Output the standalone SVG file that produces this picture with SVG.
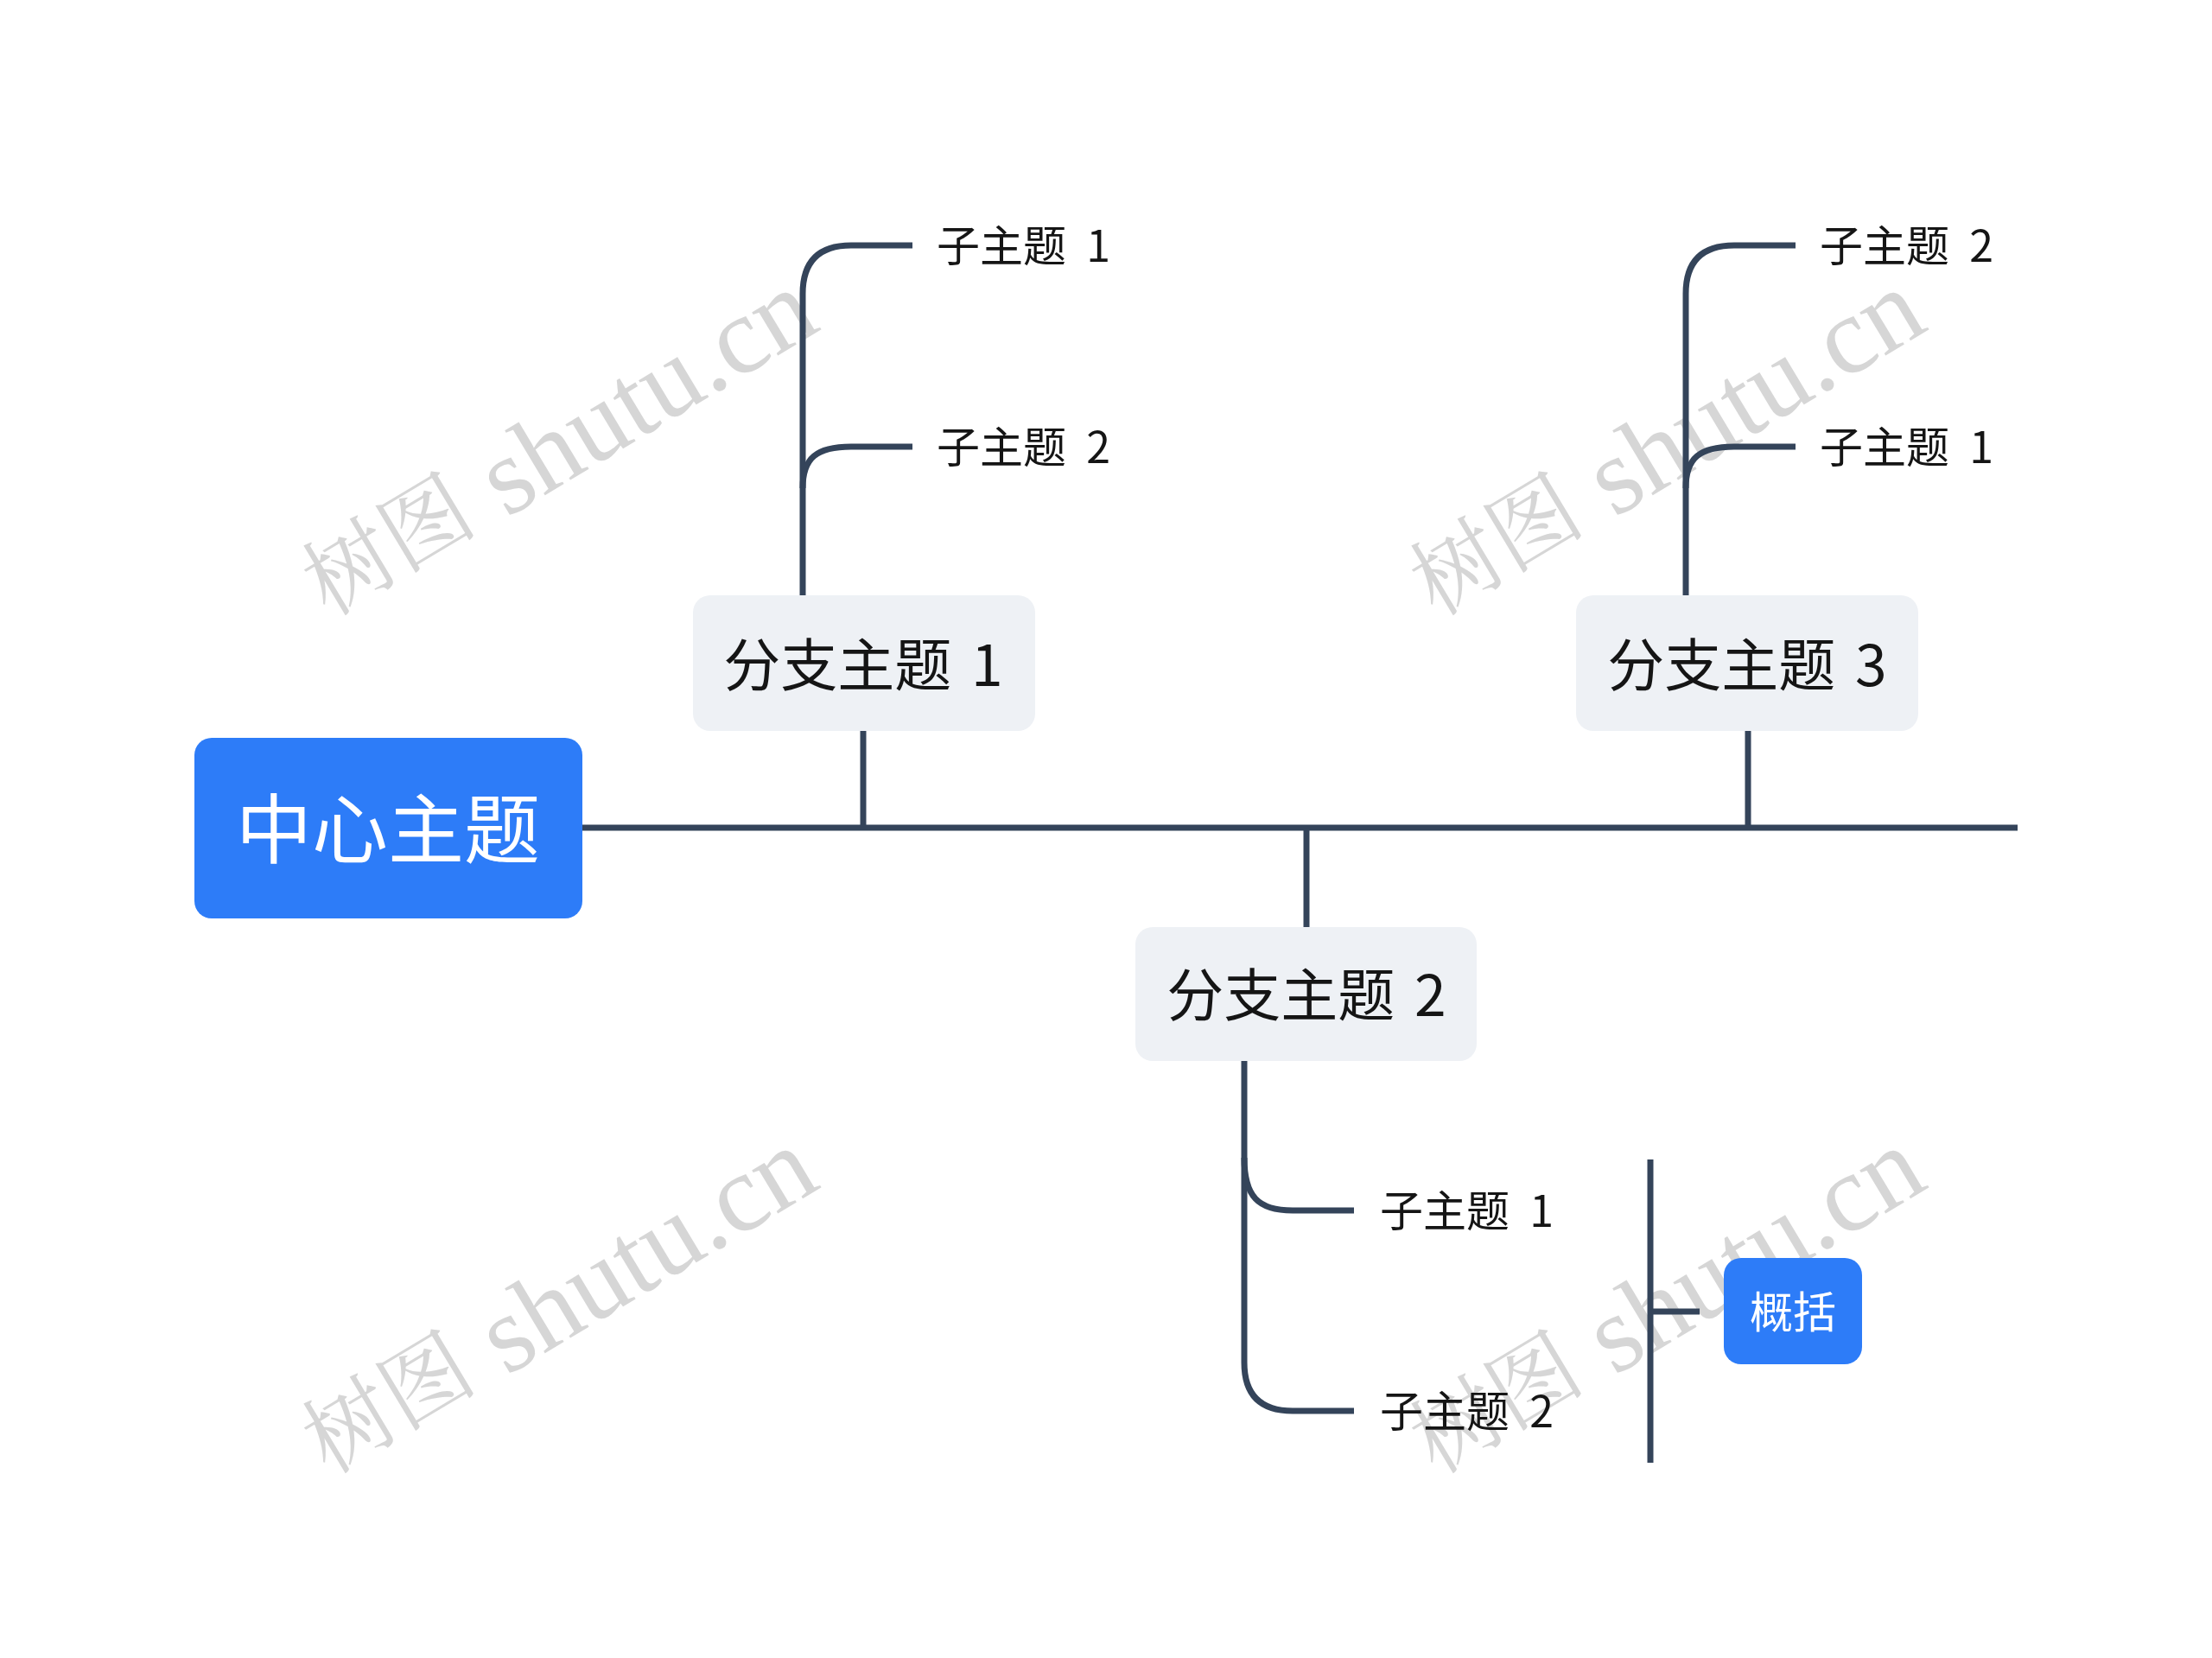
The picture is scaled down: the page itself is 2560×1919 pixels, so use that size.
<svg xmlns="http://www.w3.org/2000/svg" width="2560" height="1919" viewBox="0 0 2560 1919">
<style>
.wm{font-family:"Liberation Serif","Noto Serif CJK SC","Noto Sans CJK SC",serif;font-size:127px;fill:#d2d2d2;fill-opacity:0.9}
.wmc{font-size:102px}
.ln{fill:none;stroke:#34445a;stroke-width:7}
.t{font-family:"Noto Sans CJK SC","Noto Sans",sans-serif;dominant-baseline:central}
.sub{font-size:50px;fill:#151515;word-spacing:12px}
.br{font-size:66px;fill:#151515;text-anchor:middle;word-spacing:8px}
.brbox{fill:#eef1f5}
.blue{fill:#2d7cf8}
</style>
<rect width="2560" height="1919" fill="#ffffff"/>
<g id="watermarks">
<text class="wm" text-anchor="middle" dominant-baseline="central" transform="translate(646 514) rotate(-31)"><tspan class="wmc">树图</tspan> shutu.cn</text>
<text class="wm" text-anchor="middle" dominant-baseline="central" transform="translate(1928 514) rotate(-31)"><tspan class="wmc">树图</tspan> shutu.cn</text>
<text class="wm" text-anchor="middle" dominant-baseline="central" transform="translate(646 1507) rotate(-31)"><tspan class="wmc">树图</tspan> shutu.cn</text>
<text class="wm" text-anchor="middle" dominant-baseline="central" transform="translate(1928 1507) rotate(-31)"><tspan class="wmc">树图</tspan> shutu.cn</text>
</g>
<g id="connectors">
<path class="ln" d="M674 958 H2335"/>
<path class="ln" d="M999 846 V958"/>
<path class="ln" d="M2023 846 V958"/>
<path class="ln" d="M1512 958 V1073"/>
<path class="ln" d="M929 689 V340 Q929 284 985 284 H1056"/>
<path class="ln" d="M929 565 C929 530 945 517 985 517 H1056"/>
<path class="ln" d="M1951 689 V340 Q1951 284 2007 284 H2078"/>
<path class="ln" d="M1951 565 C1951 530 1967 517 2007 517 H2078"/>
<path class="ln" d="M1440 1228 V1577 Q1440 1633 1496 1633 H1567"/>
<path class="ln" d="M1440 1340 C1440 1385 1456 1401 1496 1401 H1567"/>
<path class="ln" d="M1910 1342 V1693"/>
<path class="ln" d="M1910 1518 H1967"/>
</g>
<g id="central">
<rect class="blue" x="225" y="854" width="449" height="209" rx="20"/>
<text class="t" x="449" y="953" font-size="88" fill="#ffffff" text-anchor="middle">中心主题</text>
</g>
<g id="branch1">
<rect class="brbox" x="802" y="689" width="396" height="157" rx="20"/>
<text class="t br" x="999" y="765">分支主题 1</text>
</g>
<g id="branch2">
<rect class="brbox" x="1314" y="1073" width="395" height="155" rx="20"/>
<text class="t br" x="1512" y="1147">分支主题 2</text>
</g>
<g id="branch3">
<rect class="brbox" x="1824" y="689" width="396" height="157" rx="20"/>
<text class="t br" x="2022" y="765">分支主题 3</text>
</g>
<g id="b1-sub1"><text class="t sub" x="1084" y="281">子主题 1</text></g>
<g id="b1-sub2"><text class="t sub" x="1084" y="514">子主题 2</text></g>
<g id="b3-sub2"><text class="t sub" x="2106" y="281">子主题 2</text></g>
<g id="b3-sub1"><text class="t sub" x="2106" y="514">子主题 1</text></g>
<g id="b2-sub1"><text class="t sub" x="1597" y="1398">子主题 1</text></g>
<g id="b2-sub2"><text class="t sub" x="1597" y="1630">子主题 2</text></g>
<g id="summary">
<rect class="blue" x="1995" y="1456" width="160" height="123" rx="20"/>
<text class="t" x="2075" y="1515" font-size="50" fill="#ffffff" text-anchor="middle">概括</text>
</g>
</svg>
